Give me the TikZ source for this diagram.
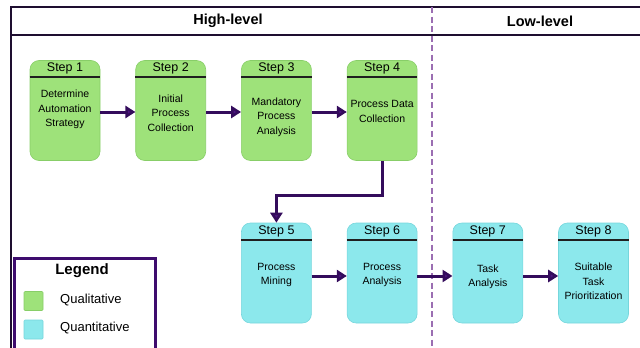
\documentclass[tikz,border=0pt]{standalone}
\usepackage{fontspec}
\setmainfont{Liberation Sans}
\usetikzlibrary{arrows.meta,calc}

\definecolor{qualfill}{RGB}{158,226,122}
\definecolor{qualedge}{RGB}{136,206,104}
\definecolor{quanfill}{RGB}{140,232,236}
\definecolor{quanedge}{RGB}{118,214,220}
\definecolor{flowcol}{RGB}{52,12,92}
\definecolor{tipcol}{RGB}{78,20,130}
\definecolor{framecol}{RGB}{30,14,48}
\definecolor{dashcol}{RGB}{155,110,178}
\definecolor{legendcol}{RGB}{62,12,110}

\tikzset{
  stepbox/.style={draw=#1edge, fill=#1fill, line width=0.6pt, rounded corners=9pt,
    minimum width=70pt, minimum height=100pt, inner sep=0pt},
  sepline/.style={line width=1.8pt, draw=black!88},
  steptitle/.style={font=\fontsize{12.5}{14}\selectfont, inner sep=0pt},
  stepbody/.style={font=\fontsize{10.5}{14.5}\selectfont, align=center, inner sep=0pt},
  flow/.style={line width=3pt, draw=flowcol,
    -{Triangle[length=10pt,width=12pt,fill=tipcol]}},
  frameline/.style={line width=1.6pt, draw=framecol},
  header/.style={font=\fontsize{14.5}{16}\selectfont\bfseries, inner sep=0pt},
  legendkey/.style={draw=#1edge, fill=#1fill, line width=0.6pt, rounded corners=1pt,
    minimum width=19pt, minimum height=19pt, inner sep=0pt},
  legendtext/.style={font=\fontsize{13}{15}\selectfont, anchor=west, inner sep=0pt},
}

\begin{document}
\begin{tikzpicture}[x=1pt,y=-1pt]
\useasboundingbox (0,0) rectangle (640,348);
\clip (0,0) rectangle (640,348);

% page frame and column headers
\draw[frameline] (11,348) -- (11,7) -- (645,7);
\draw[frameline] (11,35) -- (645,35);
\draw[line width=1.8pt, draw=dashcol, dash pattern=on 6pt off 3.5pt] (432,7) -- (432,348);
\node[header] (hl) at (228,21) {High-level};
\node[header] (ll) at (540,21) {Low-level};

% step boxes
\foreach \i/\x/\y/\c in {1/65/110.5/qual, 2/170.7/110.5/qual, 3/276.4/110.5/qual, 4/382.1/110.5/qual,
                         5/276.4/273/quan, 6/382.1/273/quan, 7/487.8/273/quan, 8/593.5/273/quan}{
  \node[stepbox=\c] (s\i) at (\x,\y) {};
  \draw[sepline] ([yshift=-17pt]s\i.north west) -- ([yshift=-17pt]s\i.north east);
  \node[steptitle] (t\i) at ([yshift=-8.5pt]s\i.north) {Step \i};
}

% step descriptions
\node[stepbody] (b1) at (65,109.5) {Determine\\Automation\\Strategy};
\node[stepbody] (b2) at (170.7,113) {Initial\\Process\\Collection};
\node[stepbody] (b3) at (276.4,117) {Mandatory\\Process\\Analysis};
\node[stepbody] (b4) at (382.1,111.5) {Process Data\\Collection};
\node[stepbody] (b5) at (276.4,275) {Process\\Mining};
\node[stepbody] (b6) at (382.1,275) {Process\\Analysis};
\node[stepbody] (b7) at (487.8,277) {Task\\Analysis};
\node[stepbody] (b8) at (593.5,281.5) {Suitable\\Task\\Prioritization};

% flow between steps
\draw[flow] ([yshift=-1.5pt]s1.east) -- ([yshift=-1.5pt]s2.west);
\draw[flow] ([yshift=-1.5pt]s2.east) -- ([yshift=-1.5pt]s3.west);
\draw[flow] ([yshift=-1.5pt]s3.east) -- ([yshift=-1.5pt]s4.west);
\draw[flow] (s4.south) -- ++(0,35) -| (s5.north);
\draw[flow] ([yshift=-3pt]s5.east) -- ([yshift=-3pt]s6.west);
\draw[flow] ([yshift=-3pt]s6.east) -- ([yshift=-3pt]s7.west);
\draw[flow] ([yshift=-3pt]s7.east) -- ([yshift=-3pt]s8.west);

% legend
\draw[line width=3.2pt, draw=legendcol, fill=white] (14.5,258.5) rectangle (155.5,360);
\node[header, font=\fontsize{15}{17}\selectfont\bfseries] (lg) at (82,271) {Legend};
\node[legendkey=qual] (k1) at (33.5,301) {};
\node[legendkey=quan] (k2) at (33.5,329.5) {};
\node[legendtext] (l1) at (60,300) {Qualitative};
\node[legendtext] (l2) at (60,328.5) {Quantitative};
\end{tikzpicture}
\end{document}
